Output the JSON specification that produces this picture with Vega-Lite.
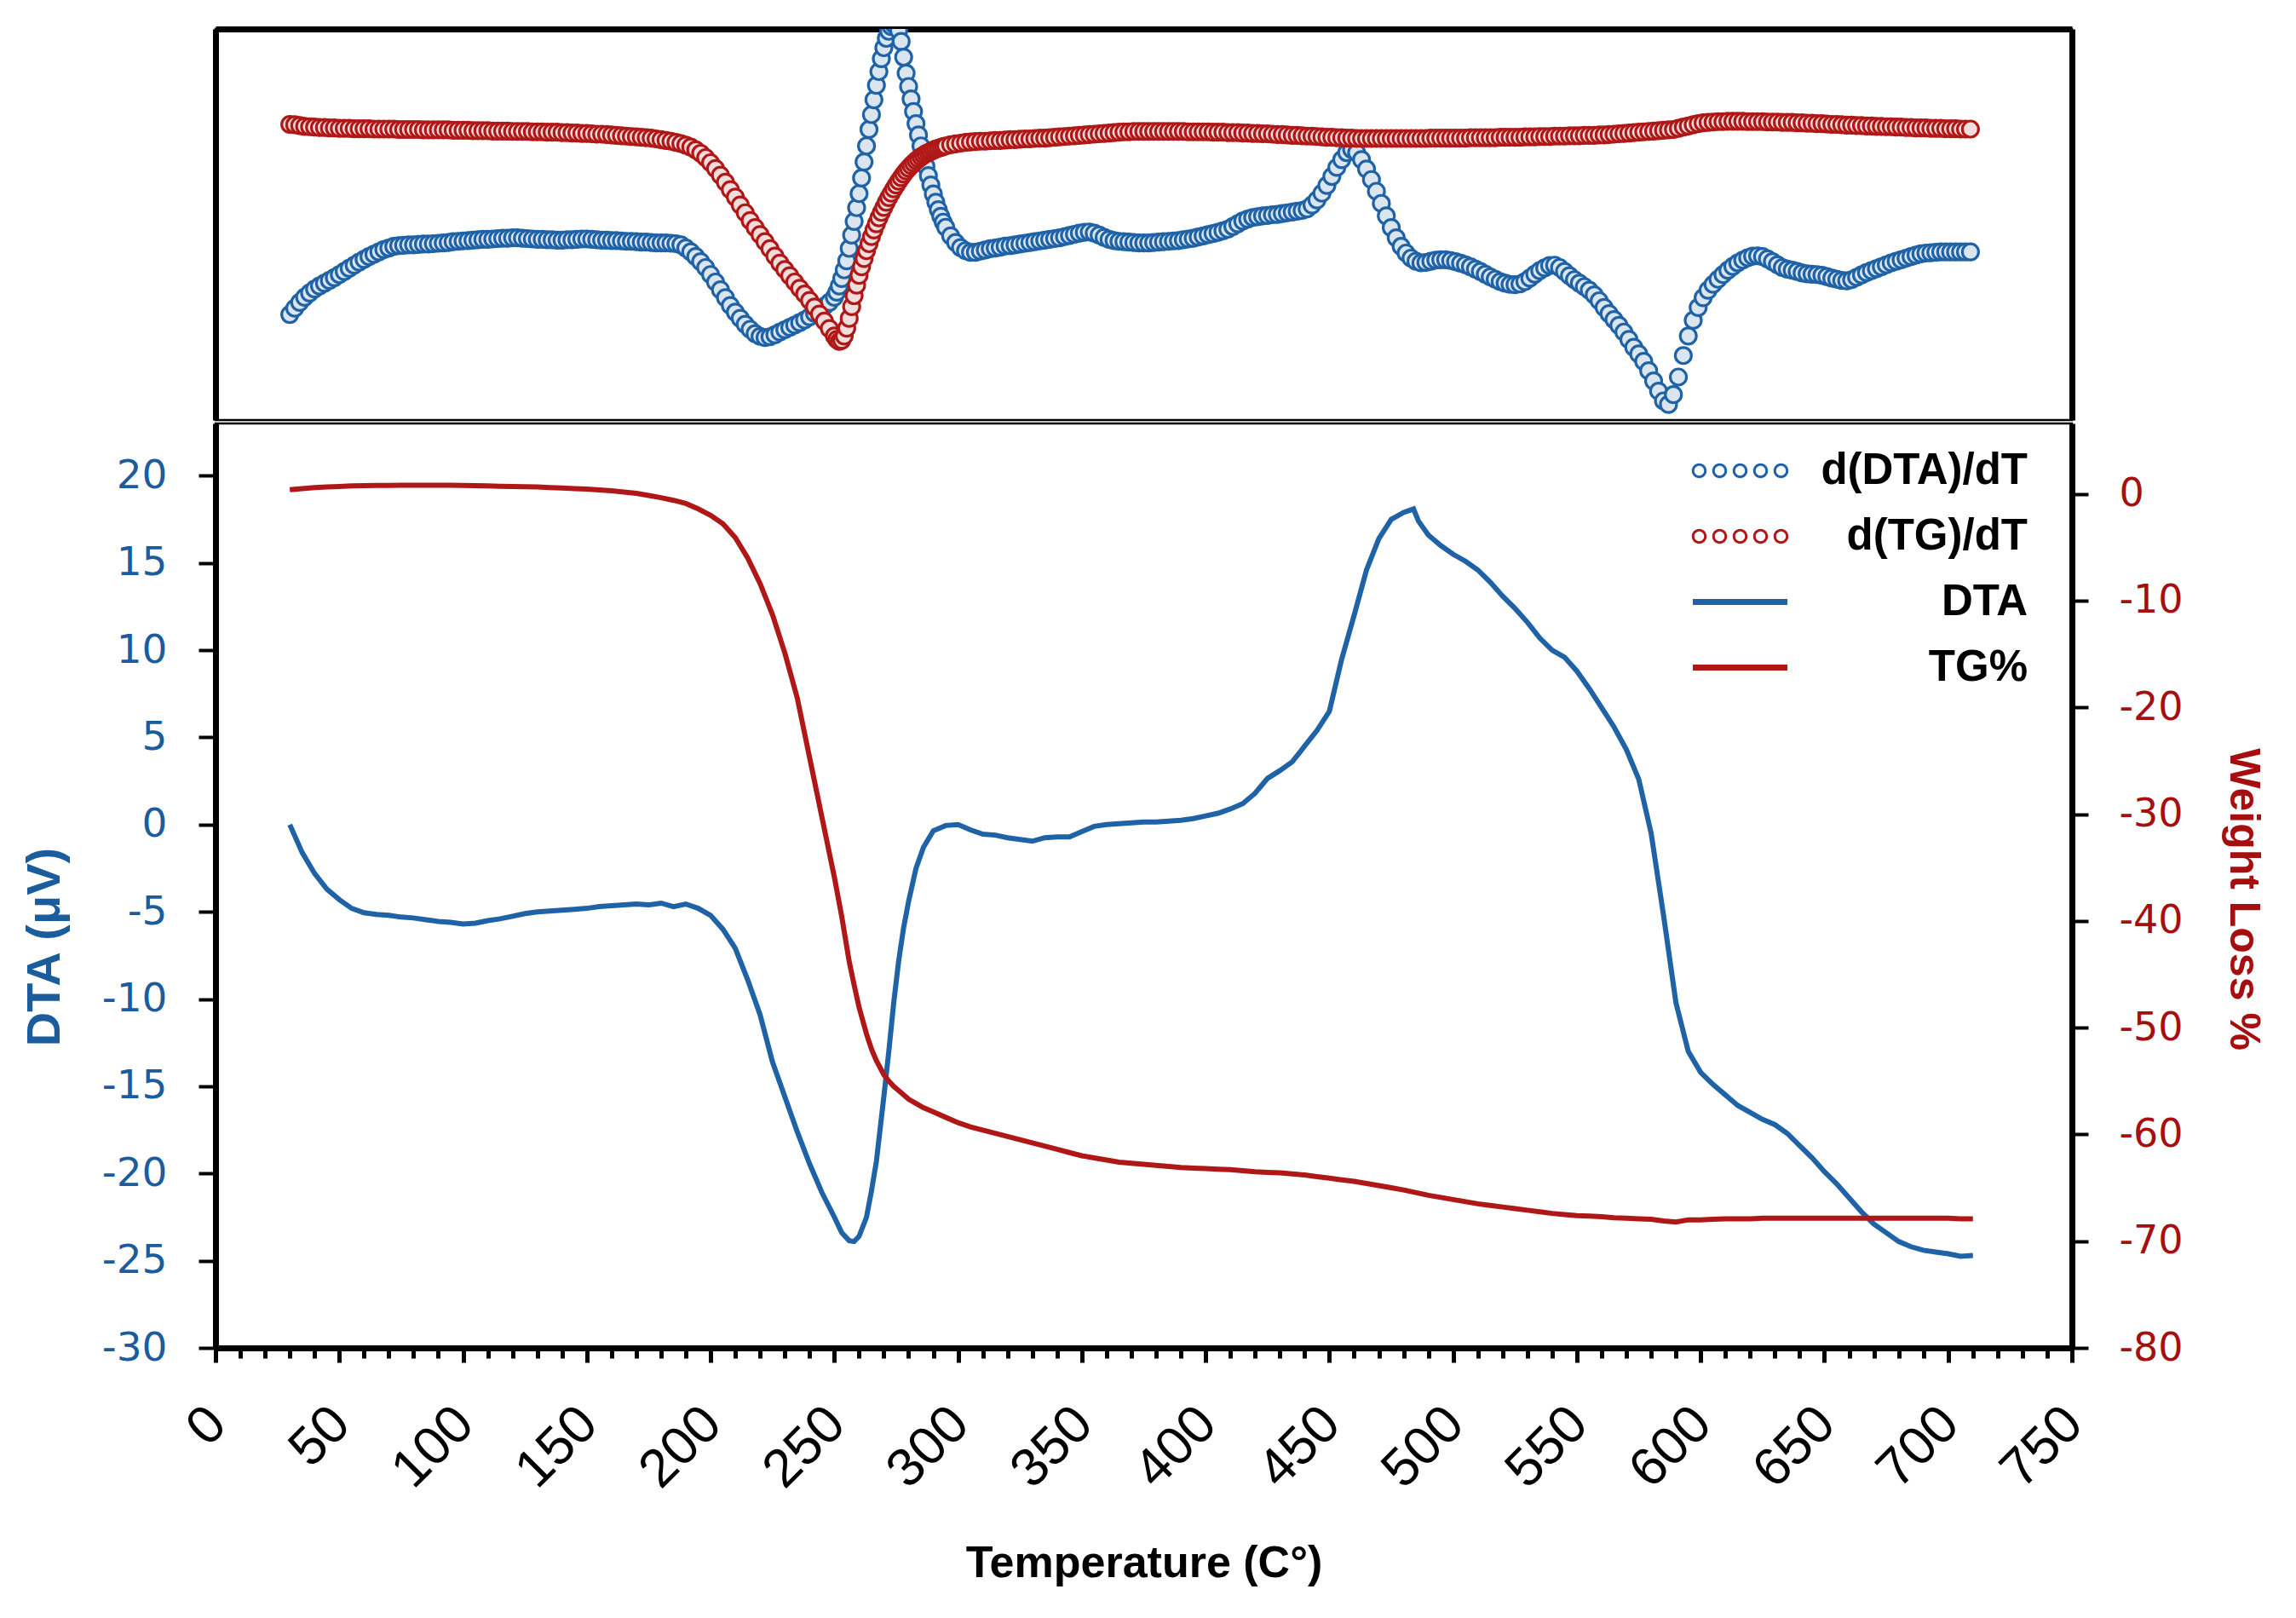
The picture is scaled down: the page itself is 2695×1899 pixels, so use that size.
{
  "$schema": "https://vega.github.io/schema/vega-lite/v6.json",
  "background": "white",
  "padding": {"left": 22, "top": 32, "right": 20, "bottom": 20},
  "spacing": 0,
  "config": {
    "view": {"stroke": "black", "strokeWidth": 2.5},
    "axis": {"grid": false, "domainColor": "black", "tickColor": "black"}
  },
  "datasets": {
    "deriv": [
      {"T":30,"a":27.0,"b":75.6},{"T":32,"a":28.6,"b":75.5},{"T":34,"a":30.1,"b":75.3},{"T":36,"a":31.4,"b":75.1},{"T":38,"a":32.5,"b":75.0},
      {"T":40,"a":33.5,"b":74.9},{"T":42,"a":34.3,"b":74.8},{"T":44,"a":35.0,"b":74.8},{"T":46,"a":35.7,"b":74.7},{"T":48,"a":36.4,"b":74.7},
      {"T":50,"a":37.2,"b":74.6},{"T":52,"a":38.0,"b":74.6},{"T":54,"a":38.8,"b":74.6},{"T":56,"a":39.6,"b":74.5},{"T":58,"a":40.4,"b":74.5},
      {"T":60,"a":41.1,"b":74.5},{"T":62,"a":41.8,"b":74.5},{"T":64,"a":42.4,"b":74.4},{"T":66,"a":43.0,"b":74.4},{"T":68,"a":43.6,"b":74.4},
      {"T":70,"a":44.0,"b":74.4},{"T":72,"a":44.4,"b":74.4},{"T":74,"a":44.6,"b":74.3},{"T":76,"a":44.7,"b":74.3},{"T":78,"a":44.8,"b":74.3},
      {"T":80,"a":44.8,"b":74.3},{"T":82,"a":44.9,"b":74.3},{"T":84,"a":45.0,"b":74.2},{"T":86,"a":45.0,"b":74.2},{"T":88,"a":45.1,"b":74.2},
      {"T":90,"a":45.2,"b":74.2},{"T":92,"a":45.3,"b":74.2},{"T":94,"a":45.4,"b":74.2},{"T":96,"a":45.6,"b":74.1},{"T":98,"a":45.7,"b":74.1},
      {"T":100,"a":45.8,"b":74.1},{"T":102,"a":45.9,"b":74.1},{"T":104,"a":46.0,"b":74.0},{"T":106,"a":46.1,"b":74.0},{"T":108,"a":46.2,"b":74.0},
      {"T":110,"a":46.2,"b":74.0},{"T":112,"a":46.3,"b":73.9},{"T":114,"a":46.4,"b":73.9},{"T":116,"a":46.5,"b":73.9},{"T":118,"a":46.5,"b":73.9},
      {"T":120,"a":46.6,"b":73.8},{"T":122,"a":46.6,"b":73.8},{"T":124,"a":46.5,"b":73.8},{"T":126,"a":46.4,"b":73.8},{"T":128,"a":46.3,"b":73.7},
      {"T":130,"a":46.2,"b":73.7},{"T":132,"a":46.2,"b":73.7},{"T":134,"a":46.1,"b":73.6},{"T":136,"a":46.1,"b":73.6},{"T":138,"a":46.0,"b":73.6},
      {"T":140,"a":46.0,"b":73.5},{"T":142,"a":46.1,"b":73.5},{"T":144,"a":46.1,"b":73.4},{"T":146,"a":46.2,"b":73.4},{"T":148,"a":46.3,"b":73.3},
      {"T":150,"a":46.3,"b":73.3},{"T":152,"a":46.2,"b":73.2},{"T":154,"a":46.1,"b":73.1},{"T":156,"a":46.0,"b":73.1},{"T":158,"a":46.0,"b":73.0},
      {"T":160,"a":45.9,"b":72.9},{"T":162,"a":45.9,"b":72.8},{"T":164,"a":45.8,"b":72.7},{"T":166,"a":45.7,"b":72.6},{"T":168,"a":45.7,"b":72.5},
      {"T":170,"a":45.6,"b":72.4},{"T":172,"a":45.5,"b":72.3},{"T":174,"a":45.5,"b":72.2},{"T":176,"a":45.4,"b":72.1},{"T":178,"a":45.3,"b":71.9},
      {"T":180,"a":45.3,"b":71.7},{"T":182,"a":45.3,"b":71.5},{"T":184,"a":45.2,"b":71.3},{"T":186,"a":45.1,"b":71.0},{"T":188,"a":44.8,"b":70.7},
      {"T":190,"a":44.0,"b":70.3},{"T":192,"a":43.0,"b":69.8},{"T":194,"a":41.8,"b":69.1},{"T":196,"a":40.5,"b":68.2},{"T":198,"a":39.0,"b":67.1},
      {"T":200,"a":37.2,"b":65.8},{"T":202,"a":35.3,"b":64.3},{"T":204,"a":33.3,"b":62.6},{"T":206,"a":31.3,"b":60.8},{"T":208,"a":29.3,"b":58.9},
      {"T":210,"a":27.6,"b":57.0},{"T":212,"a":26.0,"b":55.0},{"T":214,"a":24.5,"b":53.0},{"T":216,"a":23.2,"b":51.0},{"T":218,"a":22.1,"b":49.2},
      {"T":220,"a":21.4,"b":47.4},{"T":222,"a":21.1,"b":45.6},{"T":224,"a":21.3,"b":43.8},{"T":226,"a":21.8,"b":41.9},{"T":228,"a":22.5,"b":40.1},
      {"T":230,"a":23.1,"b":38.5},{"T":232,"a":23.7,"b":36.9},{"T":234,"a":24.3,"b":35.3},{"T":236,"a":24.9,"b":33.7},{"T":238,"a":25.6,"b":32.2},
      {"T":240,"a":26.4,"b":30.6},{"T":242,"a":27.3,"b":28.9},{"T":244,"a":28.2,"b":27.1},{"T":246,"a":29.1,"b":25.3},{"T":248,"a":30.1,"b":23.4},
      {"T":250,"a":31.4,"b":21.5},{"T":251,"a":32.7,"b":20.6},{"T":252,"a":34.3,"b":20.1},{"T":253,"a":36.2,"b":20.4},{"T":254,"a":38.4,"b":21.5},
      {"T":255,"a":40.7,"b":23.5},{"T":256,"a":43.9,"b":26.0},{"T":257,"a":47.3,"b":29.0},{"T":258,"a":50.8,"b":31.8},{"T":259,"a":54.3,"b":34.5},
      {"T":260,"a":57.9,"b":37.0},{"T":261,"a":61.9,"b":39.2},{"T":262,"a":66.0,"b":41.3},{"T":263,"a":70.1,"b":43.3},{"T":264,"a":74.3,"b":45.1},
      {"T":265,"a":78.1,"b":46.9},{"T":266,"a":81.9,"b":48.6},{"T":267,"a":85.6,"b":50.2},{"T":268,"a":89.1,"b":51.7},{"T":269,"a":92.4,"b":53.1},
      {"T":270,"a":95.2,"b":54.4},{"T":271,"a":97.6,"b":55.7},{"T":272,"a":99.4,"b":56.9},{"T":273,"a":100.6,"b":58.0},{"T":274,"a":101.2,"b":59.1},
      {"T":275,"a":101.0,"b":60.1},{"T":276,"a":99.6,"b":61.1},{"T":277,"a":96.8,"b":62.0},{"T":278,"a":92.8,"b":62.9},{"T":279,"a":88.7,"b":63.7},
      {"T":280,"a":85.3,"b":64.4},{"T":281,"a":82.1,"b":65.1},{"T":282,"a":78.9,"b":65.7},{"T":283,"a":75.8,"b":66.3},{"T":284,"a":72.9,"b":66.8},
      {"T":285,"a":70.1,"b":67.3},{"T":286,"a":67.5,"b":67.7},{"T":287,"a":64.9,"b":68.1},{"T":288,"a":62.5,"b":68.4},{"T":289,"a":60.1,"b":68.7},
      {"T":290,"a":57.8,"b":69.0},{"T":291,"a":55.7,"b":69.3},{"T":292,"a":53.8,"b":69.5},{"T":293,"a":52.1,"b":69.7},{"T":294,"a":50.6,"b":69.9},
      {"T":295,"a":49.3,"b":70.1},{"T":297,"a":47.1,"b":70.4},{"T":299,"a":45.4,"b":70.6},{"T":301,"a":44.1,"b":70.8},{"T":303,"a":43.3,"b":71.0},
      {"T":305,"a":42.9,"b":71.1},{"T":307,"a":42.9,"b":71.2},{"T":309,"a":43.2,"b":71.3},{"T":311,"a":43.5,"b":71.3},{"T":313,"a":43.8,"b":71.4},
      {"T":315,"a":44.0,"b":71.5},{"T":317,"a":44.2,"b":71.5},{"T":319,"a":44.5,"b":71.6},{"T":321,"a":44.6,"b":71.7},{"T":323,"a":44.8,"b":71.7},
      {"T":325,"a":45.0,"b":71.8},{"T":327,"a":45.2,"b":71.9},{"T":329,"a":45.4,"b":71.9},{"T":331,"a":45.6,"b":72.0},{"T":333,"a":45.8,"b":72.1},
      {"T":335,"a":46.0,"b":72.1},{"T":337,"a":46.2,"b":72.2},{"T":339,"a":46.4,"b":72.3},{"T":341,"a":46.6,"b":72.4},{"T":343,"a":46.9,"b":72.5},
      {"T":345,"a":47.2,"b":72.6},{"T":347,"a":47.5,"b":72.7},{"T":349,"a":47.8,"b":72.8},{"T":351,"a":48.0,"b":72.9},{"T":353,"a":48.1,"b":73.0},
      {"T":355,"a":47.8,"b":73.1},{"T":357,"a":47.3,"b":73.2},{"T":359,"a":46.7,"b":73.3},{"T":361,"a":46.2,"b":73.4},{"T":363,"a":45.9,"b":73.5},
      {"T":365,"a":45.7,"b":73.6},{"T":367,"a":45.6,"b":73.7},{"T":369,"a":45.5,"b":73.7},{"T":371,"a":45.4,"b":73.8},{"T":373,"a":45.3,"b":73.8},
      {"T":375,"a":45.3,"b":73.8},{"T":377,"a":45.3,"b":73.8},{"T":379,"a":45.4,"b":73.8},{"T":381,"a":45.5,"b":73.8},{"T":383,"a":45.6,"b":73.8},
      {"T":385,"a":45.7,"b":73.8},{"T":387,"a":45.8,"b":73.8},{"T":389,"a":45.9,"b":73.8},{"T":391,"a":46.1,"b":73.8},{"T":393,"a":46.3,"b":73.7},
      {"T":395,"a":46.5,"b":73.7},{"T":397,"a":46.8,"b":73.7},{"T":399,"a":47.1,"b":73.7},{"T":401,"a":47.4,"b":73.7},{"T":403,"a":47.7,"b":73.6},
      {"T":405,"a":48.0,"b":73.6},{"T":407,"a":48.4,"b":73.6},{"T":409,"a":48.8,"b":73.5},{"T":411,"a":49.5,"b":73.5},{"T":413,"a":50.2,"b":73.5},
      {"T":415,"a":50.9,"b":73.4},{"T":417,"a":51.4,"b":73.4},{"T":419,"a":51.8,"b":73.3},{"T":421,"a":52.0,"b":73.3},{"T":423,"a":52.2,"b":73.2},
      {"T":425,"a":52.3,"b":73.2},{"T":427,"a":52.5,"b":73.1},{"T":429,"a":52.6,"b":73.0},{"T":431,"a":52.8,"b":73.0},{"T":433,"a":53.0,"b":72.9},
      {"T":435,"a":53.2,"b":72.8},{"T":437,"a":53.4,"b":72.8},{"T":439,"a":53.6,"b":72.7},{"T":441,"a":54.0,"b":72.6},{"T":443,"a":55.0,"b":72.6},
      {"T":445,"a":56.3,"b":72.5},{"T":447,"a":58.0,"b":72.4},{"T":449,"a":60.0,"b":72.3},{"T":451,"a":62.3,"b":72.3},{"T":453,"a":64.6,"b":72.2},
      {"T":455,"a":66.6,"b":72.2},{"T":457,"a":68.4,"b":72.1},{"T":459,"a":69.2,"b":72.1},{"T":461,"a":68.4,"b":72.0},{"T":463,"a":66.6,"b":72.0},
      {"T":465,"a":64.2,"b":72.0},{"T":467,"a":61.5,"b":72.0},{"T":469,"a":58.5,"b":72.0},{"T":471,"a":55.4,"b":72.0},{"T":473,"a":52.2,"b":72.0},
      {"T":475,"a":49.2,"b":72.0},{"T":477,"a":46.6,"b":72.0},{"T":479,"a":44.4,"b":72.0},{"T":481,"a":42.7,"b":72.0},{"T":483,"a":41.4,"b":72.0},
      {"T":485,"a":40.6,"b":72.0},{"T":487,"a":40.2,"b":72.0},{"T":489,"a":40.3,"b":72.0},{"T":491,"a":40.6,"b":72.1},{"T":493,"a":40.9,"b":72.1},
      {"T":495,"a":41.0,"b":72.1},{"T":497,"a":41.0,"b":72.1},{"T":499,"a":40.8,"b":72.1},{"T":501,"a":40.5,"b":72.1},{"T":503,"a":40.1,"b":72.1},
      {"T":505,"a":39.7,"b":72.1},{"T":507,"a":39.2,"b":72.2},{"T":509,"a":38.6,"b":72.2},{"T":511,"a":38.0,"b":72.2},{"T":513,"a":37.3,"b":72.2},
      {"T":515,"a":36.6,"b":72.2},{"T":517,"a":36.0,"b":72.2},{"T":519,"a":35.4,"b":72.3},{"T":521,"a":35.0,"b":72.3},{"T":523,"a":34.7,"b":72.3},
      {"T":525,"a":34.6,"b":72.3},{"T":527,"a":34.8,"b":72.3},{"T":529,"a":35.4,"b":72.4},{"T":531,"a":36.3,"b":72.4},{"T":533,"a":37.3,"b":72.4},
      {"T":535,"a":38.2,"b":72.5},{"T":537,"a":38.9,"b":72.5},{"T":539,"a":39.5,"b":72.5},{"T":541,"a":39.6,"b":72.6},{"T":543,"a":39.0,"b":72.6},
      {"T":545,"a":38.0,"b":72.6},{"T":547,"a":36.9,"b":72.7},{"T":549,"a":35.9,"b":72.7},{"T":551,"a":35.0,"b":72.7},{"T":553,"a":34.1,"b":72.8},
      {"T":555,"a":33.2,"b":72.8},{"T":557,"a":32.0,"b":72.8},{"T":559,"a":30.5,"b":72.9},{"T":561,"a":28.8,"b":72.9},{"T":563,"a":27.2,"b":73.0},
      {"T":565,"a":25.7,"b":73.1},{"T":567,"a":24.2,"b":73.2},{"T":569,"a":22.5,"b":73.3},{"T":571,"a":20.6,"b":73.4},{"T":573,"a":18.6,"b":73.5},
      {"T":575,"a":16.9,"b":73.6},{"T":577,"a":15.0,"b":73.7},{"T":579,"a":12.6,"b":73.8},{"T":581,"a":10.0,"b":73.9},{"T":583,"a":7.4,"b":74.0},
      {"T":585,"a":4.9,"b":74.1},{"T":587,"a":4.0,"b":74.2},{"T":589,"a":6.5,"b":74.3},{"T":591,"a":11.0,"b":74.6},{"T":593,"a":16.5,"b":74.9},
      {"T":595,"a":21.5,"b":75.2},{"T":597,"a":25.5,"b":75.5},{"T":599,"a":28.8,"b":75.8},{"T":601,"a":31.3,"b":76.0},{"T":603,"a":33.2,"b":76.1},
      {"T":605,"a":34.7,"b":76.2},{"T":607,"a":36.0,"b":76.3},{"T":609,"a":37.2,"b":76.3},{"T":611,"a":38.3,"b":76.4},{"T":613,"a":39.3,"b":76.4},
      {"T":615,"a":40.2,"b":76.4},{"T":617,"a":40.9,"b":76.4},{"T":619,"a":41.5,"b":76.3},{"T":621,"a":41.9,"b":76.3},{"T":623,"a":42.0,"b":76.3},
      {"T":625,"a":41.8,"b":76.3},{"T":627,"a":41.2,"b":76.2},{"T":629,"a":40.5,"b":76.2},{"T":631,"a":39.7,"b":76.2},{"T":633,"a":39.0,"b":76.1},
      {"T":635,"a":38.6,"b":76.1},{"T":637,"a":38.3,"b":76.1},{"T":639,"a":38.0,"b":76.0},{"T":641,"a":37.6,"b":76.0},{"T":643,"a":37.4,"b":75.9},
      {"T":645,"a":37.3,"b":75.9},{"T":647,"a":37.2,"b":75.8},{"T":649,"a":37.0,"b":75.8},{"T":651,"a":36.7,"b":75.7},{"T":653,"a":36.3,"b":75.6},
      {"T":655,"a":36.0,"b":75.6},{"T":657,"a":35.7,"b":75.5},{"T":659,"a":35.6,"b":75.4},{"T":661,"a":35.9,"b":75.4},{"T":663,"a":36.5,"b":75.3},
      {"T":665,"a":37.1,"b":75.3},{"T":667,"a":37.7,"b":75.2},{"T":669,"a":38.2,"b":75.2},{"T":671,"a":38.7,"b":75.1},{"T":673,"a":39.2,"b":75.1},
      {"T":675,"a":39.7,"b":75.0},{"T":677,"a":40.2,"b":75.0},{"T":679,"a":40.6,"b":74.9},{"T":681,"a":41.0,"b":74.9},{"T":683,"a":41.4,"b":74.8},
      {"T":685,"a":41.8,"b":74.8},{"T":687,"a":42.2,"b":74.7},{"T":689,"a":42.5,"b":74.7},{"T":691,"a":42.7,"b":74.7},{"T":693,"a":42.8,"b":74.6},
      {"T":695,"a":42.9,"b":74.6},{"T":697,"a":43.0,"b":74.6},{"T":699,"a":43.0,"b":74.5},{"T":701,"a":43.0,"b":74.5},{"T":703,"a":43.0,"b":74.5},
      {"T":705,"a":43.0,"b":74.4},{"T":707,"a":43.0,"b":74.4},{"T":709,"a":43.0,"b":74.4}
    ],
    "curves": [
      {"T":30,"dta":0.0,"tg":0.4},{"T":35,"dta":-1.6,"tg":0.5},{"T":40,"dta":-2.8,"tg":0.6},{"T":45,"dta":-3.7,"tg":0.65},{"T":50,"dta":-4.3,"tg":0.7},
      {"T":55,"dta":-4.8,"tg":0.75},{"T":60,"dta":-5.05,"tg":0.77},{"T":65,"dta":-5.15,"tg":0.79},{"T":70,"dta":-5.2,"tg":0.8},{"T":75,"dta":-5.3,"tg":0.81},
      {"T":80,"dta":-5.35,"tg":0.82},{"T":85,"dta":-5.45,"tg":0.82},{"T":90,"dta":-5.55,"tg":0.82},{"T":95,"dta":-5.6,"tg":0.81},{"T":100,"dta":-5.7,"tg":0.8},
      {"T":105,"dta":-5.65,"tg":0.78},{"T":110,"dta":-5.5,"tg":0.75},{"T":115,"dta":-5.4,"tg":0.72},{"T":120,"dta":-5.25,"tg":0.7},{"T":125,"dta":-5.1,"tg":0.68},
      {"T":130,"dta":-5.0,"tg":0.66},{"T":135,"dta":-4.95,"tg":0.6},{"T":140,"dta":-4.9,"tg":0.55},{"T":145,"dta":-4.85,"tg":0.5},{"T":150,"dta":-4.8,"tg":0.45},
      {"T":155,"dta":-4.7,"tg":0.38},{"T":160,"dta":-4.65,"tg":0.3},{"T":165,"dta":-4.6,"tg":0.18},{"T":170,"dta":-4.55,"tg":0.05},{"T":175,"dta":-4.6,"tg":-0.15},
      {"T":180,"dta":-4.5,"tg":-0.35},{"T":185,"dta":-4.7,"tg":-0.6},{"T":190,"dta":-4.55,"tg":-0.9},{"T":195,"dta":-4.8,"tg":-1.4},{"T":200,"dta":-5.2,"tg":-2.0},
      {"T":205,"dta":-6.0,"tg":-2.8},{"T":210,"dta":-7.1,"tg":-4.1},{"T":215,"dta":-8.9,"tg":-6.0},{"T":220,"dta":-10.9,"tg":-8.4},{"T":225,"dta":-13.6,"tg":-11.3},
      {"T":230,"dta":-15.6,"tg":-14.9},{"T":235,"dta":-17.6,"tg":-19.1},{"T":240,"dta":-19.45,"tg":-24.7},{"T":245,"dta":-21.1,"tg":-30.3},{"T":250,"dta":-22.5,"tg":-35.9},
      {"T":253,"dta":-23.4,"tg":-39.6},{"T":256,"dta":-23.85,"tg":-43.8},{"T":258,"dta":-23.9,"tg":-46.0},{"T":260,"dta":-23.6,"tg":-48.1},{"T":263,"dta":-22.5,"tg":-50.6},
      {"T":265,"dta":-21.0,"tg":-52.0},{"T":267,"dta":-19.3,"tg":-53.1},{"T":270,"dta":-15.6,"tg":-54.4},{"T":272,"dta":-13.0,"tg":-55.0},{"T":274,"dta":-10.2,"tg":-55.5},
      {"T":276,"dta":-7.8,"tg":-55.9},{"T":278,"dta":-5.9,"tg":-56.3},{"T":280,"dta":-4.4,"tg":-56.7},{"T":283,"dta":-2.5,"tg":-57.1},{"T":286,"dta":-1.3,"tg":-57.5},
      {"T":290,"dta":-0.35,"tg":-57.9},{"T":295,"dta":-0.05,"tg":-58.4},{"T":300,"dta":0.0,"tg":-58.9},{"T":305,"dta":-0.3,"tg":-59.3},{"T":310,"dta":-0.55,"tg":-59.6},
      {"T":315,"dta":-0.6,"tg":-59.9},{"T":320,"dta":-0.75,"tg":-60.2},{"T":325,"dta":-0.85,"tg":-60.5},{"T":330,"dta":-0.95,"tg":-60.8},{"T":335,"dta":-0.75,"tg":-61.1},
      {"T":340,"dta":-0.7,"tg":-61.4},{"T":345,"dta":-0.7,"tg":-61.7},{"T":350,"dta":-0.4,"tg":-62.0},{"T":355,"dta":-0.1,"tg":-62.2},{"T":360,"dta":0.0,"tg":-62.4},
      {"T":365,"dta":0.05,"tg":-62.6},{"T":370,"dta":0.1,"tg":-62.7},{"T":375,"dta":0.15,"tg":-62.8},{"T":380,"dta":0.15,"tg":-62.9},{"T":385,"dta":0.2,"tg":-63.0},
      {"T":390,"dta":0.25,"tg":-63.1},{"T":395,"dta":0.35,"tg":-63.15},{"T":400,"dta":0.5,"tg":-63.2},{"T":405,"dta":0.65,"tg":-63.25},{"T":410,"dta":0.9,"tg":-63.3},
      {"T":415,"dta":1.2,"tg":-63.4},{"T":420,"dta":1.8,"tg":-63.5},{"T":425,"dta":2.65,"tg":-63.55},{"T":430,"dta":3.1,"tg":-63.6},{"T":435,"dta":3.6,"tg":-63.7},
      {"T":440,"dta":4.5,"tg":-63.8},{"T":445,"dta":5.4,"tg":-63.95},{"T":450,"dta":6.5,"tg":-64.1},{"T":455,"dta":9.5,"tg":-64.25},{"T":460,"dta":12.0,"tg":-64.4},
      {"T":465,"dta":14.6,"tg":-64.6},{"T":470,"dta":16.4,"tg":-64.8},{"T":475,"dta":17.5,"tg":-65.0},{"T":480,"dta":17.9,"tg":-65.2},{"T":484,"dta":18.1,"tg":-65.4},
      {"T":486,"dta":17.4,"tg":-65.5},{"T":490,"dta":16.6,"tg":-65.7},{"T":495,"dta":16.0,"tg":-65.9},{"T":500,"dta":15.5,"tg":-66.1},{"T":505,"dta":15.1,"tg":-66.3},
      {"T":510,"dta":14.6,"tg":-66.5},{"T":515,"dta":13.9,"tg":-66.65},{"T":520,"dta":13.1,"tg":-66.8},{"T":525,"dta":12.4,"tg":-66.95},{"T":530,"dta":11.6,"tg":-67.1},
      {"T":535,"dta":10.7,"tg":-67.25},{"T":540,"dta":10.0,"tg":-67.4},{"T":545,"dta":9.6,"tg":-67.5},{"T":550,"dta":8.8,"tg":-67.6},{"T":555,"dta":7.8,"tg":-67.65},
      {"T":560,"dta":6.7,"tg":-67.7},{"T":565,"dta":5.6,"tg":-67.8},{"T":570,"dta":4.3,"tg":-67.85},{"T":575,"dta":2.6,"tg":-67.9},{"T":580,"dta":-0.5,"tg":-67.95},
      {"T":585,"dta":-5.2,"tg":-68.1},{"T":590,"dta":-10.2,"tg":-68.2},{"T":595,"dta":-13.0,"tg":-68.0},{"T":600,"dta":-14.2,"tg":-68.0},{"T":605,"dta":-14.9,"tg":-67.95},
      {"T":610,"dta":-15.5,"tg":-67.9},{"T":615,"dta":-16.1,"tg":-67.9},{"T":620,"dta":-16.5,"tg":-67.9},{"T":625,"dta":-16.9,"tg":-67.85},{"T":630,"dta":-17.2,"tg":-67.85},
      {"T":635,"dta":-17.7,"tg":-67.85},{"T":640,"dta":-18.4,"tg":-67.85},{"T":645,"dta":-19.1,"tg":-67.85},{"T":650,"dta":-19.9,"tg":-67.85},{"T":655,"dta":-20.6,"tg":-67.85},
      {"T":660,"dta":-21.4,"tg":-67.85},{"T":665,"dta":-22.2,"tg":-67.85},{"T":670,"dta":-22.9,"tg":-67.85},{"T":675,"dta":-23.4,"tg":-67.85},{"T":680,"dta":-23.9,"tg":-67.85},
      {"T":685,"dta":-24.2,"tg":-67.85},{"T":690,"dta":-24.4,"tg":-67.85},{"T":695,"dta":-24.5,"tg":-67.85},{"T":700,"dta":-24.6,"tg":-67.85},{"T":705,"dta":-24.75,"tg":-67.9},
      {"T":710,"dta":-24.7,"tg":-67.9}
    ],
    "keys": [
      {"k": "d(DTA)/dT"}, {"k": "d(TG)/dT"}, {"k": "DTA"}, {"k": "TG%"}
    ]
  },
  "vconcat": [
    {
      "width": 2179,
      "height": 459,
      "data": {"name": "deriv"},
      "encoding": {
        "x": {"field": "T", "type": "quantitative", "scale": {"domain": [0, 750]},
              "axis": {"orient": "top", "labels": false, "ticks": false, "title": null, "domainWidth": 7}}
      },
      "layer": [
        {
          "mark": {"type": "point", "shape": "circle", "filled": true, "fill": "#dae5f0", "stroke": "#1f63a6", "strokeWidth": 3.2, "size": 360, "opacity": 1, "clip": true},
          "encoding": {
            "y": {"field": "a", "type": "quantitative", "scale": {"domain": [0, 100]},
                  "axis": {"labels": false, "ticks": false, "title": null, "domainWidth": 7}}
          }
        },
        {
          "mark": {"type": "point", "shape": "circle", "filled": true, "fill": "#f3dcdc", "stroke": "#b01818", "strokeWidth": 3.2, "size": 360, "opacity": 1, "clip": true},
          "encoding": {
            "y": {"field": "b", "type": "quantitative", "scale": {"domain": [0, 100]},
                  "axis": {"orient": "right", "labels": false, "ticks": false, "title": null, "domainWidth": 7}}
          }
        }
      ],
      "resolve": {"scale": {"y": "independent"}}
    },
    {
      "width": 2179,
      "height": 1085,
      "encoding": {
        "x": {"field": "T", "type": "quantitative", "scale": {"domain": [0, 750]},
              "axis": {
                "values": [0,10,20,30,40,50,60,70,80,90,100,110,120,130,140,150,160,170,180,190,200,210,220,230,240,250,260,270,280,290,300,310,320,330,340,350,360,370,380,390,400,410,420,430,440,450,460,470,480,490,500,510,520,530,540,550,560,570,580,590,600,610,620,630,640,650,660,670,680,690,700,710,720,730,740,750],
                "labelExpr": "datum.value % 50 === 0 ? datum.value + '' : ''",
                "labelAngle": -45, "labelFont": "Liberation Sans", "labelFontSize": 63, "labelColor": "black",
                "labelOverlap": false, "labelFlush": false, "labelBound": false, "labelPadding": 40, "labelOffset": -20,
                "tickSize": {"condition": {"test": "datum.value % 50 === 0", "value": 17}, "value": 12},
                "tickWidth": 5, "domainWidth": 7,
                "title": "Temperature (C°)", "titleFont": "Liberation Sans", "titleFontWeight": "bold", "titleFontSize": 52,
                "titleColor": "black", "titlePadding": 52
              }}
      },
      "layer": [
        {
          "data": {"name": "curves"},
          "mark": {"type": "line", "color": "#1f63a6", "strokeWidth": 6},
          "encoding": {
            "y": {"field": "dta", "type": "quantitative", "scale": {"domain": [-30, 23]},
                  "axis": {
                    "values": [-30,-25,-20,-15,-10,-5,0,5,10,15,20],
                    "labelExpr": "datum.value + ''",
                    "labelFont": "DejaVu Sans", "labelFontSize": 47, "labelColor": "#1b5c9c",
                    "tickSize": 20, "tickWidth": 4, "domainWidth": 7, "labelPadding": 37,
                    "title": "DTA (μV)", "titleColor": "#1b5c9c", "titleFont": "Liberation Sans", "titleFontWeight": "bold",
                    "titleFontSize": 56, "titlePadding": 38, "titleY": 614
                  }}
          }
        },
        {
          "data": {"name": "curves"},
          "mark": {"type": "line", "color": "#b01818", "strokeWidth": 6},
          "encoding": {
            "y": {"field": "tg", "type": "quantitative", "scale": {"domain": [-80, 6.6]},
                  "axis": {
                    "orient": "right",
                    "values": [-80,-70,-60,-50,-40,-30,-20,-10,0],
                    "labelExpr": "datum.value + ''",
                    "labelFont": "DejaVu Sans", "labelFontSize": 46, "labelColor": "#a50f0f",
                    "tickSize": 19, "tickWidth": 4, "domainWidth": 7, "labelPadding": 36,
                    "title": "Weight Loss %", "titleColor": "#a50f0f", "titleFont": "Liberation Sans", "titleFontWeight": "bold",
                    "titleFontSize": 50, "titlePadding": 45, "titleY": 558
                  }}
          }
        },
        {
          "data": {"name": "keys"},
          "mark": {"type": "point", "filled": true, "opacity": 0},
          "encoding": {
            "color": {"field": "k", "type": "nominal",
                      "scale": {"domain": ["d(DTA)/dT", "d(TG)/dT", "DTA", "TG%"], "range": ["#1f63a6", "#b01818", "#1f63a6", "#b01818"]},
                      "legend": {"orient": "none", "legendX": 1764, "legendY": 493, "title": null, "padding": 0,
                                 "symbolSize": 900, "symbolOpacity": 1, "symbolStrokeWidth": 0,
                                 "labelFont": "Liberation Sans", "labelFontWeight": "bold", "labelFontSize": 51, "labelColor": "black",
                                 "labelAlign": "right", "labelOffset": 312, "labelLimit": 500, "rowPadding": 25}},
            "shape": {"field": "k", "type": "nominal",
                      "scale": {"domain": ["d(DTA)/dT", "d(TG)/dT", "DTA", "TG%"],
                                "range": [
                                  "M-3.78,0A0.58,0.58 0 1,0 -2.62,0A0.58,0.58 0 1,0 -3.78,0ZM-3.58,0A0.38,0.38 0 1,1 -2.82,0A0.38,0.38 0 1,1 -3.58,0ZM-2.18,0A0.58,0.58 0 1,0 -1.02,0A0.58,0.58 0 1,0 -2.18,0ZM-1.98,0A0.38,0.38 0 1,1 -1.22,0A0.38,0.38 0 1,1 -1.98,0ZM-0.58,0A0.58,0.58 0 1,0 0.58,0A0.58,0.58 0 1,0 -0.58,0ZM-0.38,0A0.38,0.38 0 1,1 0.38,0A0.38,0.38 0 1,1 -0.38,0ZM1.02,0A0.58,0.58 0 1,0 2.18,0A0.58,0.58 0 1,0 1.02,0ZM1.22,0A0.38,0.38 0 1,1 1.98,0A0.38,0.38 0 1,1 1.22,0ZM2.62,0A0.58,0.58 0 1,0 3.78,0A0.58,0.58 0 1,0 2.62,0ZM2.82,0A0.38,0.38 0 1,1 3.58,0A0.38,0.38 0 1,1 2.82,0Z",
                                  "M-3.78,0A0.58,0.58 0 1,0 -2.62,0A0.58,0.58 0 1,0 -3.78,0ZM-3.58,0A0.38,0.38 0 1,1 -2.82,0A0.38,0.38 0 1,1 -3.58,0ZM-2.18,0A0.58,0.58 0 1,0 -1.02,0A0.58,0.58 0 1,0 -2.18,0ZM-1.98,0A0.38,0.38 0 1,1 -1.22,0A0.38,0.38 0 1,1 -1.98,0ZM-0.58,0A0.58,0.58 0 1,0 0.58,0A0.58,0.58 0 1,0 -0.58,0ZM-0.38,0A0.38,0.38 0 1,1 0.38,0A0.38,0.38 0 1,1 -0.38,0ZM1.02,0A0.58,0.58 0 1,0 2.18,0A0.58,0.58 0 1,0 1.02,0ZM1.22,0A0.38,0.38 0 1,1 1.98,0A0.38,0.38 0 1,1 1.22,0ZM2.62,0A0.58,0.58 0 1,0 3.78,0A0.58,0.58 0 1,0 2.62,0ZM2.82,0A0.38,0.38 0 1,1 3.58,0A0.38,0.38 0 1,1 2.82,0Z",
                                  "M-3.7,-0.23H3.7V0.23H-3.7Z",
                                  "M-3.7,-0.23H3.7V0.23H-3.7Z"
                                ]},
                      "legend": {"orient": "none", "legendX": 1764, "legendY": 493, "title": null, "padding": 0,
                                 "symbolSize": 900, "symbolOpacity": 1, "symbolStrokeWidth": 0,
                                 "labelFont": "Liberation Sans", "labelFontWeight": "bold", "labelFontSize": 51, "labelColor": "black",
                                 "labelAlign": "right", "labelOffset": 312, "labelLimit": 500, "rowPadding": 25}}
          }
        }
      ],
      "resolve": {"scale": {"y": "independent"}}
    }
  ]
}
